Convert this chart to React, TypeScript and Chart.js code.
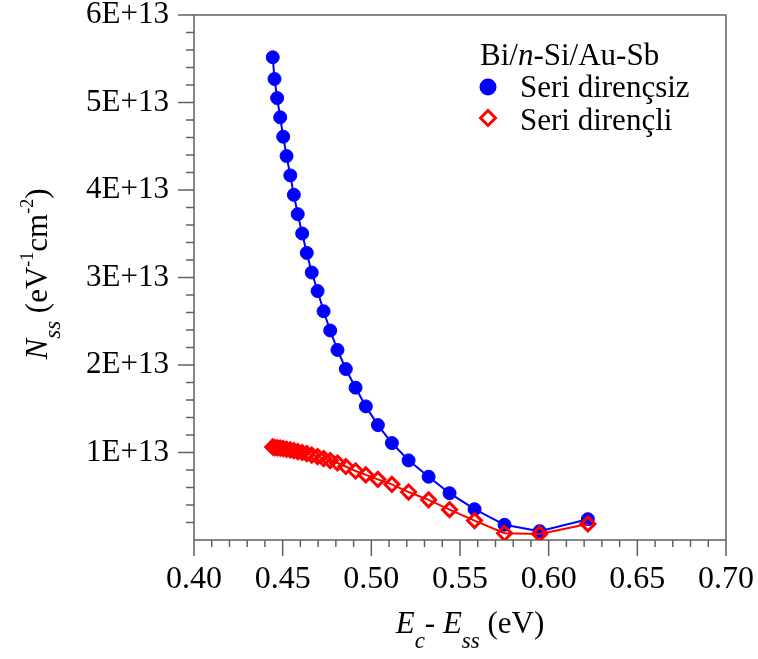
import React, { useEffect, useRef } from "react";
import { Chart, registerables } from "chart.js";

Chart.register(...registerables);

// Energy below conduction band, Ec - Ess (eV)
const energy = [
  0.4444, 0.4454, 0.4469, 0.4486, 0.4503, 0.4522, 0.4543, 0.4563, 0.4585, 0.461,
  0.4636, 0.4664, 0.4697, 0.4731, 0.4768, 0.4809, 0.4856, 0.4911, 0.4969, 0.5037,
  0.5116, 0.521, 0.5323, 0.5441, 0.5582, 0.5751, 0.5949, 0.6221,
];
// Nss without series resistance (units of 1E13 eV^-1 cm^-2)
const nssWithout = [
  5.517, 5.269, 5.051, 4.831, 4.609, 4.388, 4.167, 3.945, 3.724, 3.503,
  3.281, 3.057, 2.845, 2.614, 2.394, 2.172, 1.954, 1.741, 1.527, 1.313,
  1.108, 0.91, 0.723, 0.535, 0.352, 0.174, 0.101, 0.238,
];
// Nss with series resistance (units of 1E13 eV^-1 cm^-2)
const nssWith = [
  1.063, 1.057, 1.054, 1.049, 1.043, 1.037, 1.029, 1.021, 1.011, 1.0,
  0.986, 0.971, 0.954, 0.931, 0.908, 0.88, 0.84, 0.789, 0.744, 0.693,
  0.636, 0.548, 0.459, 0.347, 0.222, 0.077, 0.07, 0.184,
];
const legendTitle = ["Bi/", "n", "-Si/Au-Sb"];
const seriesNames = ["Seri dirençsiz", "Seri dirençli"];
const yTickUnit = 1e13;

const FONT = '"Liberation Serif", "Times New Roman", serif';
const AXIS = "#606060";
const BLUE = "#0000FF";
const RED = "#FF0000";

type Seg = { t: string; it?: boolean; size: number; dy?: number };

function fontOf(s: Seg) {
  return `${s.it ? "italic " : ""}${s.size}px ${FONT}`;
}

function richWidth(ctx: CanvasRenderingContext2D, segs: Seg[]) {
  let w = 0;
  for (const s of segs) {
    ctx.font = fontOf(s);
    w += ctx.measureText(s.t).width;
  }
  return w;
}

function drawRich(ctx: CanvasRenderingContext2D, segs: Seg[], x: number, y: number) {
  let cx = x;
  ctx.textBaseline = "alphabetic";
  ctx.textAlign = "left";
  for (const s of segs) {
    ctx.font = fontOf(s);
    ctx.fillText(s.t, cx, y + (s.dy || 0));
    cx += ctx.measureText(s.t).width;
  }
}

const decorPlugin = {
  id: "decor",
  beforeDatasetsDraw(chart: any) {
    const { ctx, chartArea: a, scales } = chart;
    const xs = scales.x;
    const ys = scales.y;
    ctx.save();
    ctx.strokeStyle = AXIS;
    ctx.lineWidth = 1.5;
    ctx.strokeRect(a.left, a.top, a.right - a.left, a.bottom - a.top);
    ctx.beginPath();
    for (let i = 0; i <= 30; i++) {
      const px = xs.getPixelForValue(0.4 + i * 0.01);
      const len = i % 5 === 0 ? 16 : 7;
      ctx.moveTo(px, a.bottom);
      ctx.lineTo(px, a.bottom + len);
    }
    for (let j = 1; j <= 30; j++) {
      const py = ys.getPixelForValue(j * 2e12);
      const len = j % 5 === 0 ? 16 : 8;
      ctx.moveTo(a.left, py);
      ctx.lineTo(a.left - len, py);
    }
    ctx.stroke();
    ctx.restore();
  },
  afterDraw(chart: any) {
    const { ctx } = chart;
    ctx.save();
    ctx.fillStyle = "#000";

    // x axis title
    const xt: Seg[] = [
      { t: "E", it: true, size: 31 },
      { t: "c", it: true, size: 23, dy: 15 },
      { t: "- ", size: 31 },
      { t: "E", it: true, size: 31 },
      { t: "ss", it: true, size: 23, dy: 15 },
      { t: " (eV)", size: 31 },
    ];
    const xw = richWidth(ctx, xt);
    drawRich(ctx, xt, 470 - xw / 2, 633);

    // y axis title (rotated)
    const yt: Seg[] = [
      { t: "N", it: true, size: 31 },
      { t: "ss", it: true, size: 23, dy: 13 },
      { t: " (eV", size: 31 },
      { t: "-1", size: 18, dy: -14 },
      { t: "cm", size: 31 },
      { t: "-2", size: 18, dy: -14 },
      { t: ")", size: 31 },
    ];
    const yw = richWidth(ctx, yt);
    ctx.save();
    ctx.translate(47, 274);
    ctx.rotate(-Math.PI / 2);
    drawRich(ctx, yt, -yw / 2, 0);
    ctx.restore();

    // legend
    const lt: Seg[] = [
      { t: legendTitle[0], size: 31 },
      { t: legendTitle[1], it: true, size: 31 },
      { t: legendTitle[2], size: 31 },
    ];
    drawRich(ctx, lt, 480, 65);

    ctx.fillStyle = BLUE;
    ctx.beginPath();
    ctx.arc(488, 87, 8.5, 0, Math.PI * 2);
    ctx.fill();

    ctx.strokeStyle = RED;
    ctx.lineWidth = 3;
    ctx.fillStyle = "#fff";
    ctx.beginPath();
    ctx.moveTo(488, 118 - 7.5);
    ctx.lineTo(488 + 7.5, 118);
    ctx.lineTo(488, 118 + 7.5);
    ctx.lineTo(488 - 7.5, 118);
    ctx.closePath();
    ctx.fill();
    ctx.stroke();

    ctx.fillStyle = "#000";
    drawRich(ctx, [{ t: seriesNames[0], size: 31 }], 520, 97);
    drawRich(ctx, [{ t: seriesNames[1], size: 31 }], 520, 130);
    ctx.restore();
  },
};

export default function App() {
  const ref = useRef<HTMLCanvasElement | null>(null);

  useEffect(() => {
    document.body.style.margin = "0";
    const canvas = ref.current;
    if (!canvas) return;
    const blueData = energy.map((x, i) => ({ x, y: nssWithout[i] * yTickUnit }));
    const redData = energy.map((x, i) => ({ x, y: nssWith[i] * yTickUnit }));

    const chart = new Chart(canvas, {
      type: "line",
      data: {
        datasets: [
          {
            label: seriesNames[1],
            data: redData,
            borderColor: RED,
            borderWidth: 2,
            backgroundColor: "rgba(0,0,0,0)",
            pointStyle: "rectRot",
            pointRadius: 7,
            pointBorderWidth: 3,
            pointBorderColor: RED,
            pointBackgroundColor: "rgba(0,0,0,0)",
            tension: 0,
            order: 0,
          },
          {
            label: seriesNames[0],
            data: blueData,
            borderColor: BLUE,
            borderWidth: 2,
            backgroundColor: BLUE,
            pointStyle: "circle",
            pointRadius: 6.5,
            pointBorderWidth: 1,
            pointBorderColor: BLUE,
            pointBackgroundColor: BLUE,
            tension: 0,
            order: 1,
          },
        ],
      },
      options: {
        responsive: false,
        animation: false,
        devicePixelRatio: 1,
        layout: { padding: { top: 15, right: 32, left: 0, bottom: 0 } },
        plugins: { legend: { display: false }, tooltip: { enabled: false } },
        scales: {
          x: {
            type: "linear",
            min: 0.4,
            max: 0.7,
            border: { display: false },
            grid: { display: false, drawTicks: false },
            ticks: {
              stepSize: 0.05,
              autoSkip: false,
              maxRotation: 0,
              padding: 20,
              color: "#000",
              font: { family: FONT, size: 32 },
              callback: (v: any) => Number(v).toFixed(2),
            },
            afterFit: (s: any) => {
              s.height = 119;
              s.paddingLeft = 0;
              s.paddingRight = 0;
              s.paddingTop = 0;
              s.paddingBottom = 0;
            },
          },
          y: {
            type: "linear",
            min: 0,
            max: 6e13,
            border: { display: false },
            grid: { display: false, drawTicks: false },
            ticks: {
              stepSize: 1e13,
              autoSkip: false,
              padding: 25,
              color: "#000",
              font: { family: FONT, size: 31 },
              callback: (v: any) => {
                const n = Math.round(Number(v) / yTickUnit);
                return n === 0 ? "" : `${n}E+13`;
              },
            },
            afterFit: (s: any) => {
              s.width = 194;
              s.paddingLeft = 0;
              s.paddingRight = 0;
              s.paddingTop = 0;
              s.paddingBottom = 0;
            },
          },
        },
      },
      plugins: [decorPlugin],
    } as any);
    return () => chart.destroy();
  }, []);

  return (
    <div style={{ width: 758, height: 659, background: "#fff" }}>
      <canvas ref={ref} width={758} height={659} style={{ display: "block" }} />
    </div>
  );
}
